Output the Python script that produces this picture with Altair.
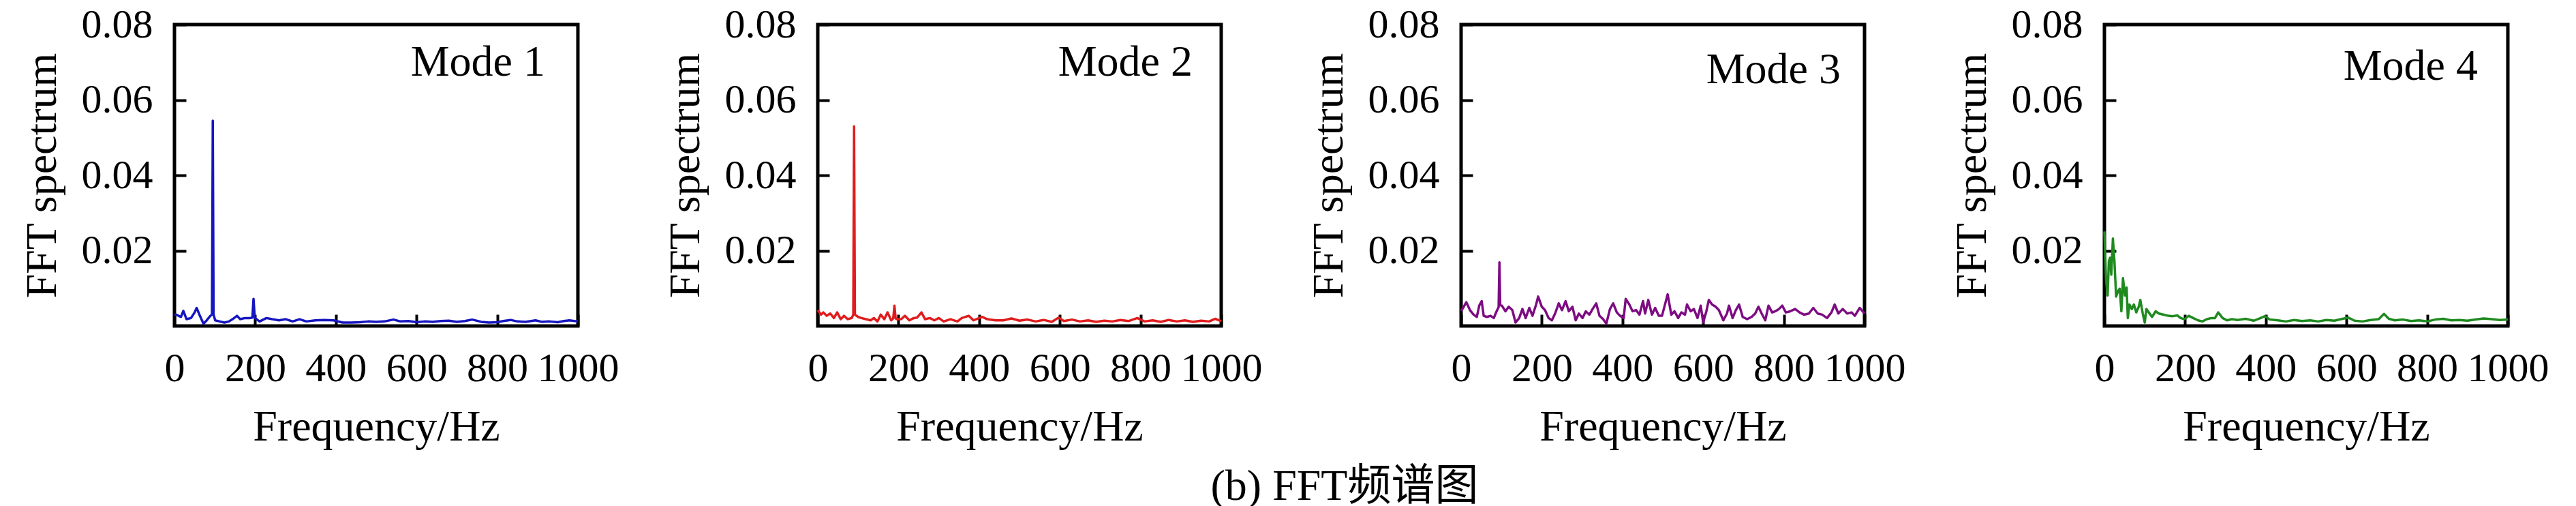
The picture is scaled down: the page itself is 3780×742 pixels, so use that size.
import altair as alt
import pandas as pd

SERIF = "Liberation Serif"
CAPTION_FONT = "Liberation Serif, Noto Sans CJK SC"

MODE_LABELS = ["Mode 1", "Mode 2", "Mode 3", "Mode 4"]
COLORS = ["#1616c0", "#e01c1c", "#7d0c82", "#1f8a1f"]
X_TICKS = [0, 200, 400, 600, 800, 1000]
Y_TICKS = [0.02, 0.04, 0.06, 0.08]
CAPTION = "(b) FFT频谱图"

# Mode 1 (blue)
M1_F = [0, 5, 10, 16, 22, 30, 41, 50, 55, 63,
        72, 80, 89, 93, 95, 97, 101, 112, 124, 135,
        144, 155, 163, 175, 186, 193, 196, 199, 203, 211,
        228, 242, 259, 276, 293, 310, 327, 349, 372, 394,
        417, 439, 460, 480, 500, 520, 543, 560, 580, 600,
        620, 640, 660, 680, 700, 720, 738, 760, 780, 800,
        815, 833, 850, 870, 895, 910, 930, 950, 965, 979,
        1000]
M1_A = [0.0030, 0.0030, 0.0027, 0.0024, 0.0040, 0.0018, 0.0021, 0.0036, 0.0048, 0.0027,
        0.0006, 0.0015, 0.0027, 0.0030, 0.0545, 0.0030, 0.0015, 0.0012, 0.0009, 0.0012,
        0.0018, 0.0027, 0.0018, 0.0021, 0.0021, 0.0022, 0.0072, 0.0022, 0.0018, 0.0012,
        0.0021, 0.0018, 0.0015, 0.0018, 0.0012, 0.0018, 0.0012, 0.0015, 0.0016, 0.0015,
        0.0009, 0.0009, 0.0010, 0.0012, 0.0011, 0.0012, 0.0017, 0.0012, 0.0013, 0.0010,
        0.0012, 0.0011, 0.0013, 0.0014, 0.0011, 0.0013, 0.0017, 0.0011, 0.0009, 0.0010,
        0.0013, 0.0016, 0.0012, 0.0011, 0.0015, 0.0011, 0.0012, 0.0010, 0.0013, 0.0015,
        0.0012]

# Mode 2 (red)
M2_F = [0, 8, 14, 22, 31, 40, 48, 57, 65, 74,
        84, 88, 90, 92, 100, 108, 119, 131, 139, 148,
        156, 165, 173, 182, 187, 190, 193, 196, 207, 216,
        227, 238, 246, 257, 266, 278, 289, 300, 312, 329,
        346, 357, 374, 386, 408, 420, 440, 460, 480, 500,
        520, 540, 560, 580, 597, 610, 630, 650, 670, 690,
        710, 730, 750, 770, 792, 810, 830, 850, 870, 890,
        910, 930, 950, 970, 985, 1000]
M2_A = [0.0042, 0.0030, 0.0036, 0.0027, 0.0033, 0.0021, 0.0036, 0.0018, 0.0027, 0.0018,
        0.0021, 0.0030, 0.0530, 0.0030, 0.0024, 0.0021, 0.0018, 0.0015, 0.0021, 0.0012,
        0.0030, 0.0018, 0.0036, 0.0015, 0.0020, 0.0054, 0.0020, 0.0018, 0.0018, 0.0027,
        0.0015, 0.0021, 0.0022, 0.0036, 0.0018, 0.0021, 0.0015, 0.0021, 0.0012, 0.0018,
        0.0012, 0.0021, 0.0027, 0.0015, 0.0024, 0.0018, 0.0015, 0.0015, 0.0020, 0.0014,
        0.0017, 0.0012, 0.0016, 0.0011, 0.0022, 0.0013, 0.0017, 0.0012, 0.0015, 0.0011,
        0.0014, 0.0012, 0.0016, 0.0013, 0.0021, 0.0012, 0.0015, 0.0011, 0.0016, 0.0012,
        0.0015, 0.0011, 0.0014, 0.0012, 0.0019, 0.0013]

# Mode 3 (purple)
M3_F = [0, 5, 13, 22, 31, 39, 45, 51, 56, 64,
        73, 81, 88, 93, 95, 97, 101, 110, 118, 127,
        135, 144, 152, 160, 169, 177, 186, 191, 200, 208,
        217, 225, 233, 242, 250, 259, 267, 276, 284, 292,
        301, 309, 318, 326, 335, 343, 352, 360, 369, 377,
        386, 394, 403, 408, 417, 425, 434, 442, 451, 456,
        464, 473, 481, 490, 498, 512, 521, 529, 538, 546,
        555, 560, 569, 577, 586, 594, 600, 608, 614, 622,
        631, 639, 650, 659, 664, 673, 681, 689, 698, 709,
        720, 729, 737, 745, 754, 762, 771, 779, 788, 796,
        805, 816, 828, 839, 850, 862, 873, 884, 895, 907,
        918, 926, 935, 946, 957, 968, 976, 988, 1000]
M3_A = [0.0040, 0.0048, 0.0063, 0.0042, 0.0030, 0.0024, 0.0054, 0.0066, 0.0027, 0.0024,
        0.0027, 0.0021, 0.0039, 0.0050, 0.0169, 0.0055, 0.0054, 0.0039, 0.0051, 0.0042,
        0.0009, 0.0021, 0.0045, 0.0021, 0.0048, 0.0027, 0.0057, 0.0078, 0.0051, 0.0042,
        0.0021, 0.0015, 0.0033, 0.0060, 0.0042, 0.0066, 0.0039, 0.0051, 0.0015, 0.0033,
        0.0021, 0.0039, 0.0030, 0.0045, 0.0060, 0.0027, 0.0018, 0.0006, 0.0045, 0.0060,
        0.0036, 0.0027, 0.0021, 0.0072, 0.0057, 0.0039, 0.0042, 0.0030, 0.0066, 0.0033,
        0.0069, 0.0030, 0.0048, 0.0027, 0.0027, 0.0084, 0.0030, 0.0039, 0.0021, 0.0036,
        0.0030, 0.0057, 0.0039, 0.0045, 0.0021, 0.0054, 0.0009, 0.0039, 0.0069, 0.0057,
        0.0051, 0.0042, 0.0015, 0.0033, 0.0054, 0.0021, 0.0042, 0.0057, 0.0024, 0.0018,
        0.0024, 0.0033, 0.0051, 0.0033, 0.0015, 0.0054, 0.0036, 0.0039, 0.0045, 0.0054,
        0.0036, 0.0039, 0.0045, 0.0036, 0.0030, 0.0033, 0.0048, 0.0033, 0.0030, 0.0021,
        0.0036, 0.0057, 0.0033, 0.0045, 0.0033, 0.0036, 0.0027, 0.0048, 0.0033]

# Mode 4 (green)
M4_F = [0, 4, 8, 11, 14, 17, 21, 25, 29,
        34, 38, 42, 46, 51, 55, 58, 62, 68, 73,
        79, 85, 89, 95, 100, 104, 110, 118, 127, 135,
        147, 158, 169, 181, 189, 198, 209, 220, 232, 243,
        254, 265, 274, 282, 293, 304, 316, 330, 350, 370,
        385, 398, 410, 430, 450, 470, 490, 510, 530, 550,
        570, 590, 605, 620, 640, 660, 680, 693, 705, 720,
        740, 760, 780, 800, 820, 840, 860, 880, 900, 920,
        940, 960, 980, 1000]
M4_A = [0.0251, 0.0124, 0.0081, 0.0172, 0.0181, 0.0136, 0.0232, 0.0169, 0.0078,
        0.0093, 0.0099, 0.0039, 0.0127, 0.0081, 0.0102, 0.0021, 0.0057, 0.0045, 0.0057,
        0.0036, 0.0051, 0.0069, 0.0033, 0.0009, 0.0045, 0.0036, 0.0024, 0.0039, 0.0033,
        0.0030, 0.0027, 0.0026, 0.0028, 0.0021, 0.0018, 0.0027, 0.0021, 0.0015, 0.0012,
        0.0018, 0.0021, 0.0021, 0.0036, 0.0021, 0.0015, 0.0018, 0.0016, 0.0019, 0.0014,
        0.0020, 0.0026, 0.0017, 0.0015, 0.0012, 0.0016, 0.0013, 0.0015, 0.0012, 0.0016,
        0.0014, 0.0019, 0.0022, 0.0014, 0.0012, 0.0016, 0.0018, 0.0032, 0.0019, 0.0015,
        0.0017, 0.0013, 0.0015, 0.0012, 0.0017, 0.0019, 0.0015, 0.0016, 0.0014, 0.0017,
        0.0020, 0.0018, 0.0016, 0.0017]

SERIES = [(M1_F, M1_A), (M2_F, M2_A), (M3_F, M3_A), (M4_F, M4_A)]
LABEL_X = [544, 550, 557, 548]
LABEL_Y = [75, 75, 86, 81]

W, H = 592, 442
TICK = 17


def panel(i):
    freq, amp = SERIES[i]
    df = pd.DataFrame({"f": freq, "a": amp})
    line = alt.Chart(df).mark_line(
        color=COLORS[i], strokeWidth=3.5, strokeJoin="round"
    ).encode(
        x=alt.X(
            "f:Q",
            scale=alt.Scale(domain=[0, 1000], nice=False, zero=False),
            axis=alt.Axis(
                values=X_TICKS, format="d", title="Frequency/Hz",
                labelFlush=False, labelOverlap=False, domain=False, grid=False,
                tickSize=TICK, tickWidth=4, tickColor="black", offset=-TICK,
                labelPadding=33, labelFont=SERIF, labelFontSize=60, labelColor="black",
                titleFont=SERIF, titleFontSize=64, titleFontWeight="normal",
                titleColor="black", titlePadding=24,
            ),
        ),
        y=alt.Y(
            "a:Q",
            scale=alt.Scale(domain=[0, 0.08], nice=False),
            axis=alt.Axis(
                values=Y_TICKS, format=".2f", title="FFT spectrum",
                labelOverlap=False, domain=False, grid=False,
                tickSize=TICK, tickWidth=4, tickColor="black", offset=-TICK,
                labelPadding=32, labelFont=SERIF, labelFontSize=60, labelColor="black",
                titleFont=SERIF, titleFontSize=64, titleFontWeight="normal",
                titleColor="black", titlePadding=25,
            ),
        ),
    )
    txt = alt.Chart(pd.DataFrame({"t": [MODE_LABELS[i]]})).mark_text(
        align="right", baseline="alphabetic", font=SERIF, fontSize=64, color="black"
    ).encode(
        x=alt.value(LABEL_X[i]),
        y=alt.value(LABEL_Y[i]),
        text="t:N",
    )
    return alt.layer(line, txt).properties(width=W, height=H)


chart = alt.hconcat(
    *[panel(i) for i in range(4)], spacing=352, bounds="flush"
).properties(
    title=alt.TitleParams(
        CAPTION, orient="bottom", anchor="middle", font=CAPTION_FONT,
        fontSize=64, fontWeight="normal", color="black", offset=21, dx=88,
    ),
    background="white",
    padding={"left": 19, "top": -5, "right": 5, "bottom": 0},
).configure_view(stroke="black", strokeWidth=5)

chart.save("out.html", embed_options={"renderer": "svg", "actions": False})
